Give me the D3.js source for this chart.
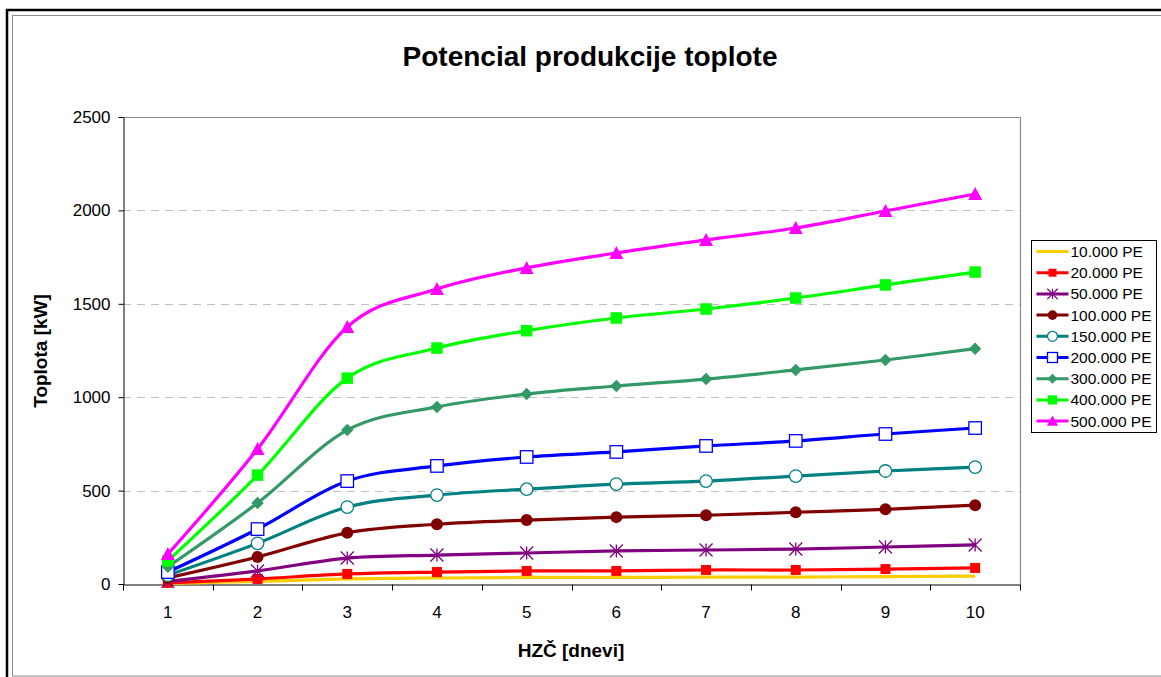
<!DOCTYPE html>
<html>
<head>
<meta charset="utf-8">
<script src="https://cdn.jsdelivr.net/npm/d3@7"></script>
<style>
  html, body { margin: 0; padding: 0; background: #fff; }
  svg { display: block; font-family: "Liberation Sans", Arial, sans-serif; }
</style>
</head>
<body>
<svg id="chart" width="1161" height="677"></svg>
<script>
// Retention time in days (category axis)
const days = ["1", "2", "3", "4", "5", "6", "7", "8", "9", "10"];

// Heat production potential [kW] per plant size (population equivalents)
const pe10k  = [3, 14, 27, 32, 35, 35, 37, 37, 40, 42];
const pe20k  = [6, 27, 54, 64, 70, 70, 75, 75, 80, 86];
const pe50k  = [14, 70, 139, 155, 166, 177, 182, 187, 198, 209];
const pe100k = [33, 145, 274, 320, 342, 358, 368, 384, 400, 422];
const pe150k = [47, 218, 412, 476, 508, 535, 551, 578, 605, 626];
const pe200k = [64, 294, 551, 632, 680, 707, 739, 766, 803, 835];
const pe300k = [92, 434, 824, 948, 1017, 1060, 1097, 1146, 1199, 1260];
const pe400k = [124, 583, 1102, 1263, 1356, 1424, 1472, 1531, 1601, 1670];
const pe500k = [160, 723, 1376, 1579, 1692, 1772, 1842, 1906, 1997, 2088];

const seriesNames = ["10.000 PE", "20.000 PE", "50.000 PE", "100.000 PE", "150.000 PE",
                     "200.000 PE", "300.000 PE", "400.000 PE", "500.000 PE"];
const seriesValues = [pe10k, pe20k, pe50k, pe100k, pe150k, pe200k, pe300k, pe400k, pe500k];
const yTicks = [0, 500, 1000, 1500, 2000, 2500];

const styles = [
  { color: "#FFCC00", marker: "none" },
  { color: "#FF0000", marker: "square", size: 10 },
  { color: "#800080", marker: "star", size: 13 },
  { color: "#800000", marker: "circle", size: 12 },
  { color: "#008080", marker: "ocircle", size: 12.5 },
  { color: "#0000FF", marker: "osquare", size: 12.5 },
  { color: "#339966", marker: "diamond", size: 12.5 },
  { color: "#00FF00", marker: "square", size: 11.5 },
  { color: "#FF00FF", marker: "triangle", size: 14 }
];

const svg = d3.select("#chart");

// Outer chart frame
svg.append("path")
  .attr("d", "M7,677 L7,10 L1161,10")
  .attr("fill", "none").attr("stroke", "#000").attr("stroke-width", 2.5);
svg.append("rect")
  .attr("x", 12.5).attr("y", 15.5).attr("width", 1200).attr("height", 660.5)
  .attr("fill", "none").attr("stroke", "#8c8c8c").attr("stroke-width", 1);

const plot = { left: 123, right: 1020, top: 117, bottom: 584 };

const x = d3.scaleBand().domain(days).range([plot.left, plot.right]);
const y = d3.scaleLinear().domain([0, 2500]).range([plot.bottom, plot.top]);

// Title
svg.append("text")
  .attr("x", 590).attr("y", 66)
  .attr("text-anchor", "middle")
  .attr("font-size", 28).attr("font-weight", "bold")
  .text("Potencial produkcije toplote");

// Dashed gridlines
svg.append("g").selectAll("line")
  .data(yTicks.filter(v => v > 0 && v < 2500))
  .join("line")
  .attr("x1", plot.left).attr("x2", plot.right)
  .attr("y1", d => Math.round(y(d)) + 0.5).attr("y2", d => Math.round(y(d)) + 0.5)
  .attr("stroke", "#c0c0c0").attr("stroke-width", 1)
  .attr("stroke-dasharray", "8,6");

// Plot area border (top and right)
svg.append("path")
  .attr("d", `M${plot.left},${y(2500) + 0.5} H${plot.right + 0.5} V${plot.bottom}`)
  .attr("fill", "none").attr("stroke", "#8c8c8c").attr("stroke-width", 1.2);

// Y axis
const yAxis = svg.append("g")
  .attr("transform", `translate(${plot.left + 0.5},0)`)
  .call(d3.axisLeft(y).tickValues(yTicks).tickFormat(d3.format("d"))
    .tickSize(5).tickPadding(8).tickSizeOuter(0));
yAxis.select(".domain").attr("stroke", "#000");
yAxis.selectAll("text").attr("font-size", 17).attr("font-family", "Liberation Sans, Arial, sans-serif").attr("fill", "#000");

// X axis: labels centred in each category, tick marks on category boundaries
const xAxis = svg.append("g")
  .attr("transform", `translate(0,${plot.bottom + 0.5})`)
  .call(d3.axisBottom(x).tickSize(0).tickPadding(21).tickSizeOuter(0));
xAxis.select(".domain").attr("stroke", "#000");
xAxis.selectAll("text").attr("font-size", 17).attr("font-family", "Liberation Sans, Arial, sans-serif").attr("fill", "#000");
const bounds = days.map(d => x(d)).concat([x(days[days.length - 1]) + x.bandwidth()]);
xAxis.append("g").selectAll("line")
  .data(bounds)
  .join("line")
  .attr("x1", d => Math.round(d) + 0.5).attr("x2", d => Math.round(d) + 0.5)
  .attr("y1", 0).attr("y2", 6)
  .attr("stroke", "#000");

// Axis titles
svg.append("text")
  .attr("x", 571).attr("y", 657)
  .attr("text-anchor", "middle")
  .attr("font-size", 19).attr("font-weight", "bold")
  .text("HZČ [dnevi]");
svg.append("text")
  .attr("transform", "translate(47,351) rotate(-90)")
  .attr("text-anchor", "middle")
  .attr("font-size", 19).attr("font-weight", "bold")
  .text("Toplota [kW]");

// Marker drawing
function drawMarker(g, st) {
  const s = st.size;
  switch (st.marker) {
    case "square":
      g.append("rect").attr("x", -s / 2).attr("y", -s / 2).attr("width", s).attr("height", s)
        .attr("fill", st.color);
      break;
    case "osquare":
      g.append("rect").attr("x", -s / 2).attr("y", -s / 2).attr("width", s).attr("height", s)
        .attr("fill", "#fff").attr("stroke", st.color).attr("stroke-width", 1.3);
      break;
    case "circle":
      g.append("circle").attr("r", s / 2).attr("fill", st.color);
      break;
    case "ocircle":
      g.append("circle").attr("r", s / 2).attr("fill", "#fff").attr("stroke", st.color).attr("stroke-width", 1.3);
      break;
    case "diamond":
      g.append("path").attr("d", `M0,${-s / 2} L${s / 2},0 L0,${s / 2} L${-s / 2},0 Z`).attr("fill", st.color);
      break;
    case "triangle":
      g.append("path").attr("d", `M0,${-s / 2} L${s / 2},${s / 2 - 1} L${-s / 2},${s / 2 - 1} Z`).attr("fill", st.color);
      break;
    case "star": {
      const h = s / 2;
      g.append("path")
        .attr("d", `M${-h},${-h} L${h},${h} M${-h},${h} L${h},${-h} M0,${-h} L0,${h}`)
        .attr("stroke", st.color).attr("stroke-width", 1.3).attr("fill", "none");
      break;
    }
  }
}

// Series lines and markers
const line = d3.line()
  .x((d, i) => x(days[i]) + x.bandwidth() / 2)
  .y(d => y(d))
  .curve(d3.curveCardinal.tension(0));

const seriesG = svg.append("g");
seriesValues.forEach((vals, k) => {
  const st = styles[k];
  const g = seriesG.append("g");
  g.append("path")
    .attr("d", line(vals))
    .attr("fill", "none")
    .attr("stroke", st.color)
    .attr("stroke-width", 3.2)
    .attr("stroke-linejoin", "round");
  if (st.marker !== "none") {
    vals.forEach((v, i) => {
      const m = g.append("g")
        .attr("transform", `translate(${x(days[i]) + x.bandwidth() / 2},${y(v)})`);
      drawMarker(m, st);
    });
  }
});

// Legend
const legend = { x: 1031.5, y: 240.5, w: 125, h: 192, row: 21.2 };
svg.append("rect")
  .attr("x", legend.x).attr("y", legend.y).attr("width", legend.w).attr("height", legend.h)
  .attr("fill", "#fff").attr("stroke", "#000").attr("stroke-width", 1);
seriesNames.forEach((name, k) => {
  const st = styles[k];
  const cy = legend.y + 11 + k * legend.row;
  const g = svg.append("g");
  g.append("line")
    .attr("x1", legend.x + 5).attr("x2", legend.x + 37)
    .attr("y1", cy).attr("y2", cy)
    .attr("stroke", st.color).attr("stroke-width", 3);
  if (st.marker !== "none") {
    const m = g.append("g").attr("transform", `translate(${legend.x + 21},${cy})`);
    drawMarker(m, Object.assign({}, st, { size: st.size * 0.8 }));
  }
  g.append("text")
    .attr("x", legend.x + 39).attr("y", cy + 5.5)
    .attr("font-size", 15.5)
    .text(name);
});
</script>
</body>
</html>
